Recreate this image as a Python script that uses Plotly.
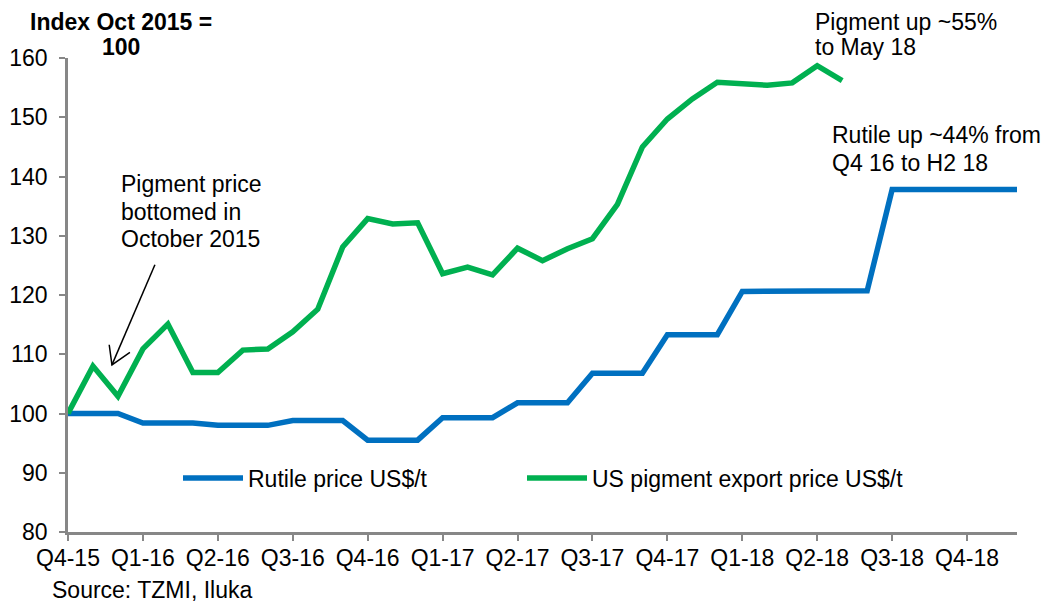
import plotly.graph_objects as go

months = ["Oct-15", "Nov-15", "Dec-15", "Jan-16", "Feb-16", "Mar-16", "Apr-16", "May-16", "Jun-16",
          "Jul-16", "Aug-16", "Sep-16", "Oct-16", "Nov-16", "Dec-16", "Jan-17", "Feb-17", "Mar-17",
          "Apr-17", "May-17", "Jun-17", "Jul-17", "Aug-17", "Sep-17", "Oct-17", "Nov-17", "Dec-17",
          "Jan-18", "Feb-18", "Mar-18", "Apr-18", "May-18", "Jun-18", "Jul-18", "Aug-18", "Sep-18",
          "Oct-18", "Nov-18", "Dec-18"]

rutile = [100.0, 100.0, 100.0, 98.4, 98.4, 98.4, 98.0, 98.0, 98.0, 98.8, 98.8, 98.8,
          95.5, 95.5, 95.5, 99.3, 99.3, 99.3, 101.8, 101.8, 101.8, 106.8, 106.8, 106.8,
          113.3, 113.3, 113.3, 120.6, 120.6, 120.6, 120.7, 120.7, 120.7, 137.8, 137.8, 137.8,
          137.8, 137.8, 137.8]

pigment = [100.0, 108.0, 102.9, 110.9, 115.1, 106.9, 106.9, 110.7, 110.9, 113.8, 117.6, 128.1,
           132.9, 132.0, 132.2, 123.6, 124.7, 123.4, 127.9, 125.8, 127.8, 129.5, 135.3, 145.0,
           149.7, 153.1, 155.9, 155.6, 155.4, 155.8, 158.7, 156.2]

quarter_months = ["Oct-15", "Jan-16", "Apr-16", "Jul-16", "Oct-16", "Jan-17", "Apr-17", "Jul-17",
                  "Oct-17", "Jan-18", "Apr-18", "Jul-18", "Oct-18"]
quarter_labels = ["Q4-15", "Q1-16", "Q2-16", "Q3-16", "Q4-16", "Q1-17", "Q2-17", "Q3-17",
                  "Q4-17", "Q1-18", "Q2-18", "Q3-18", "Q4-18"]
y_ticks = [80, 90, 100, 110, 120, 130, 140, 150, 160]

# page has an 8px body margin, so the figure is drawn 8px smaller and offset
OFF = 8
W, H = 1049 - OFF, 604 - OFF
PX0, PX1, PY0, PY1 = 68, 1017, 58, 532      # plot area in screen pixels
L, R, T, B = PX0 - OFF, W - (PX1 - OFF), PY0 - OFF, H - (PY1 - OFF)

def px(xs):
    return (xs - PX0) / (PX1 - PX0)

def py(ys):
    return (PY1 - ys) / (PY1 - PY0)

FONT = "Liberation Sans, Arial, sans-serif"
GREY = "#878787"
FS = 23

fig = go.Figure()
fig.add_trace(go.Scatter(x=months, y=rutile, mode="lines", name="Rutile price US$/t",
                         line=dict(color="#0070C0", width=5.5), legend="legend"))
fig.add_trace(go.Scatter(x=months[:len(pigment)], y=pigment, mode="lines",
                         name="US pigment export price US$/t",
                         line=dict(color="#00B050", width=5.5), legend="legend2"))

def top_for_baseline(b, s=FS):
    return b - 1 - 0.905 * s

text_lines = [
    ("<b>Index Oct 2015 =</b>", 121, 29.7, "center"),
    ("<b>100</b>", 121, 54.5, "center"),
    ("Pigment up ~55%", 814, 29.7, "left"),
    ("to May 18", 814, 54.5, "left"),
    ("Rutile up ~44% from", 831, 142.7, "left"),
    ("Q4 16 to H2 18", 831, 170.7, "left"),
    ("Pigment price", 120, 191.7, "left"),
    ("bottomed in", 120, 219.5, "left"),
    ("October 2015", 120, 247.3, "left"),
    ("Source: TZMI, Iluka", 51, 598, "left"),
]
annotations = []
for txt, xs, base, anchor in text_lines:
    annotations.append(dict(text=txt, x=px(xs), y=py(top_for_baseline(base)), xref="paper",
                            yref="paper", xanchor=anchor, yanchor="top", align=anchor,
                            showarrow=False, borderpad=0, font=dict(size=FS)))

# annotation arrow (open V head) pointing at the October 2015 low
arrow_tail = (3.48, 125.1)
arrow_tip = (1.76, 108.2)
wing_a = (1.65, 111.6)
wing_b = (2.48, 110.3)
shapes = [
    dict(type="line", xref="x", yref="y", x0=arrow_tail[0], y0=arrow_tail[1],
         x1=arrow_tip[0], y1=arrow_tip[1], line=dict(color="black", width=1.5)),
    dict(type="path", xref="x", yref="y",
         path=f"M {wing_a[0]} {wing_a[1]} L {arrow_tip[0]} {arrow_tip[1]} L {wing_b[0]} {wing_b[1]}",
         line=dict(color="black", width=1.5)),
]

legend_common = dict(orientation="h", y=py(478), xanchor="left", yanchor="middle",
                     font=dict(size=FS), bgcolor="rgba(0,0,0,0)", itemwidth=60)

fig.update_layout(
    width=W, height=H,
    margin=dict(l=L, r=R, t=T, b=B, pad=0, autoexpand=False),
    paper_bgcolor="white", plot_bgcolor="white",
    font=dict(family=FONT, size=FS, color="black"),
    showlegend=True,
    legend=dict(x=px(178), **legend_common),
    legend2=dict(x=px(522), **legend_common),
    annotations=annotations,
    shapes=shapes,
    xaxis=dict(type="category", range=[0, len(months) - 1], tickmode="array",
               tickvals=quarter_months, ticktext=quarter_labels, showgrid=False,
               zeroline=False, showline=True, linecolor=GREY, linewidth=2.5,
               ticks="outside", ticklen=6, tickwidth=2, tickcolor=GREY, automargin=False,
               tickfont=dict(size=23, color="black"), ticklabelstandoff=-2),
    yaxis=dict(range=[80, 160], tickmode="array", tickvals=y_ticks, showgrid=False,
               zeroline=False, showline=True, linecolor=GREY, linewidth=2.5,
               ticks="outside", ticklen=6, tickwidth=2, tickcolor=GREY, automargin=False,
               tickfont=dict(size=23, color="black"), ticklabelstandoff=7),
)

fig.write_html("out.html")
